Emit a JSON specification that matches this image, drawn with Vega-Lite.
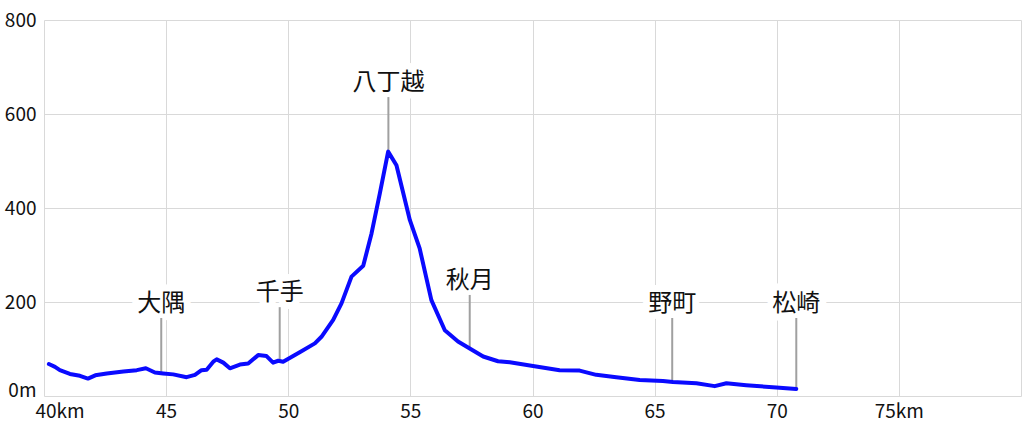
{
  "$schema": "https://vega.github.io/schema/vega-lite/v6.json",
  "width": 977,
  "height": 376,
  "autosize": "none",
  "padding": {"left": 44, "top": 20, "right": 3, "bottom": 34},
  "background": "white",
  "config": {
    "view": {"stroke": null},
    "font": "Noto Sans CJK JP",
    "axis": {
      "labelFont": "Noto Sans CJK JP",
      "labelFontSize": 19,
      "labelColor": "#111111",
      "gridColor": "#d9d9d9",
      "gridWidth": 1,
      "gridOpacity": 1,
      "domain": false,
      "ticks": false,
      "title": null
    }
  },
  "datasets": {
    "profile": [
      {"km": 40.2, "elev": 68},
      {"km": 40.45, "elev": 62},
      {"km": 40.65, "elev": 55},
      {"km": 41.06, "elev": 47},
      {"km": 41.47, "elev": 43},
      {"km": 41.8, "elev": 37},
      {"km": 42.1, "elev": 44},
      {"km": 42.57, "elev": 48},
      {"km": 43.25, "elev": 52},
      {"km": 43.8, "elev": 55},
      {"km": 44.17, "elev": 59},
      {"km": 44.54, "elev": 50},
      {"km": 44.88, "elev": 48},
      {"km": 45.29, "elev": 46},
      {"km": 45.84, "elev": 40},
      {"km": 46.18, "elev": 45},
      {"km": 46.45, "elev": 55},
      {"km": 46.66, "elev": 56},
      {"km": 46.93, "elev": 73},
      {"km": 47.07, "elev": 78},
      {"km": 47.34, "elev": 71},
      {"km": 47.61, "elev": 59},
      {"km": 48.02, "elev": 67},
      {"km": 48.36, "elev": 69},
      {"km": 48.77, "elev": 87},
      {"km": 49.11, "elev": 85},
      {"km": 49.38, "elev": 71},
      {"km": 49.59, "elev": 75},
      {"km": 49.79, "elev": 73},
      {"km": 50.47, "elev": 93},
      {"km": 51.09, "elev": 112},
      {"km": 51.36, "elev": 126},
      {"km": 51.84, "elev": 162},
      {"km": 52.18, "elev": 197},
      {"km": 52.59, "elev": 254},
      {"km": 53.07, "elev": 277},
      {"km": 53.41, "elev": 346},
      {"km": 53.75, "elev": 431},
      {"km": 54.09, "elev": 520},
      {"km": 54.43, "elev": 491},
      {"km": 54.98, "elev": 374},
      {"km": 55.38, "elev": 314},
      {"km": 55.86, "elev": 204},
      {"km": 56.41, "elev": 140},
      {"km": 56.95, "elev": 116},
      {"km": 57.43, "elev": 101},
      {"km": 57.98, "elev": 84},
      {"km": 58.59, "elev": 74},
      {"km": 59.07, "elev": 72},
      {"km": 60.02, "elev": 64},
      {"km": 61.11, "elev": 55},
      {"km": 61.93, "elev": 54},
      {"km": 62.61, "elev": 45},
      {"km": 63.43, "elev": 40},
      {"km": 64.39, "elev": 34},
      {"km": 65.34, "elev": 32},
      {"km": 65.75, "elev": 30},
      {"km": 66.71, "elev": 27},
      {"km": 67.46, "elev": 21},
      {"km": 67.94, "elev": 27},
      {"km": 68.75, "elev": 23},
      {"km": 69.98, "elev": 18},
      {"km": 70.8, "elev": 15}
    ],
    "places": [
      {"name": "大隅", "km": 44.8, "elev": 49, "label_m": 166},
      {"name": "千手", "km": 49.65, "elev": 76, "label_m": 189},
      {"name": "八丁越", "km": 54.1, "elev": 519, "label_m": 636},
      {"name": "秋月", "km": 57.43, "elev": 101, "label_m": 215},
      {"name": "野町", "km": 65.72, "elev": 31, "label_m": 166},
      {"name": "松崎", "km": 70.8, "elev": 15, "label_m": 166}
    ]
  },
  "layer": [
    {
      "data": {"name": "places"},
      "mark": {"type": "text", "baseline": "bottom", "align": "center", "dy": -2, "fontSize": 24, "font": "Noto Sans CJK JP", "fill": "white", "stroke": "white", "strokeWidth": 14, "strokeJoin": "round"},
      "encoding": {
        "x": {"field": "km", "type": "quantitative", "scale": {"domain": [40, 80], "nice": false, "zero": false},
          "axis": {"values": [40, 45, 50, 55, 60, 65, 70, 75, 80], "labelPadding": 6, "labelFlush": true, "labelFlushOffset": 9,
            "labelExpr": "datum.value == 80 ? '' : (datum.value == 40 || datum.value == 75) ? datum.label + 'km' : datum.label"}},
        "y": {"field": "label_m", "type": "quantitative", "scale": {"domain": [0, 800], "nice": false},
          "axis": {"values": [0, 200, 400, 600, 800], "labelPadding": 8,
            "labelBaseline": {"condition": {"test": "datum.value == 0", "value": "alphabetic"}, "value": "middle"},
            "labelExpr": "datum.value == 0 ? '0m' : datum.label"}},
        "text": {"field": "name"}
      }
    },
    {
      "data": {"name": "places"},
      "mark": {"type": "rule", "color": "#a0a0a0", "strokeWidth": 2},
      "encoding": {
        "x": {"field": "km", "type": "quantitative"},
        "y": {"field": "label_m", "type": "quantitative"},
        "y2": {"field": "elev"}
      }
    },
    {
      "data": {"name": "profile"},
      "mark": {"type": "line", "color": "#0a0aff", "strokeWidth": 4, "strokeJoin": "round", "strokeCap": "round"},
      "encoding": {
        "x": {"field": "km", "type": "quantitative"},
        "y": {"field": "elev", "type": "quantitative"}
      }
    },
    {
      "data": {"name": "places"},
      "mark": {"type": "text", "baseline": "bottom", "align": "center", "dy": -2, "fontSize": 24, "font": "Noto Sans CJK JP", "color": "#111111"},
      "encoding": {
        "x": {"field": "km", "type": "quantitative"},
        "y": {"field": "label_m", "type": "quantitative"},
        "text": {"field": "name"}
      }
    }
  ]
}
